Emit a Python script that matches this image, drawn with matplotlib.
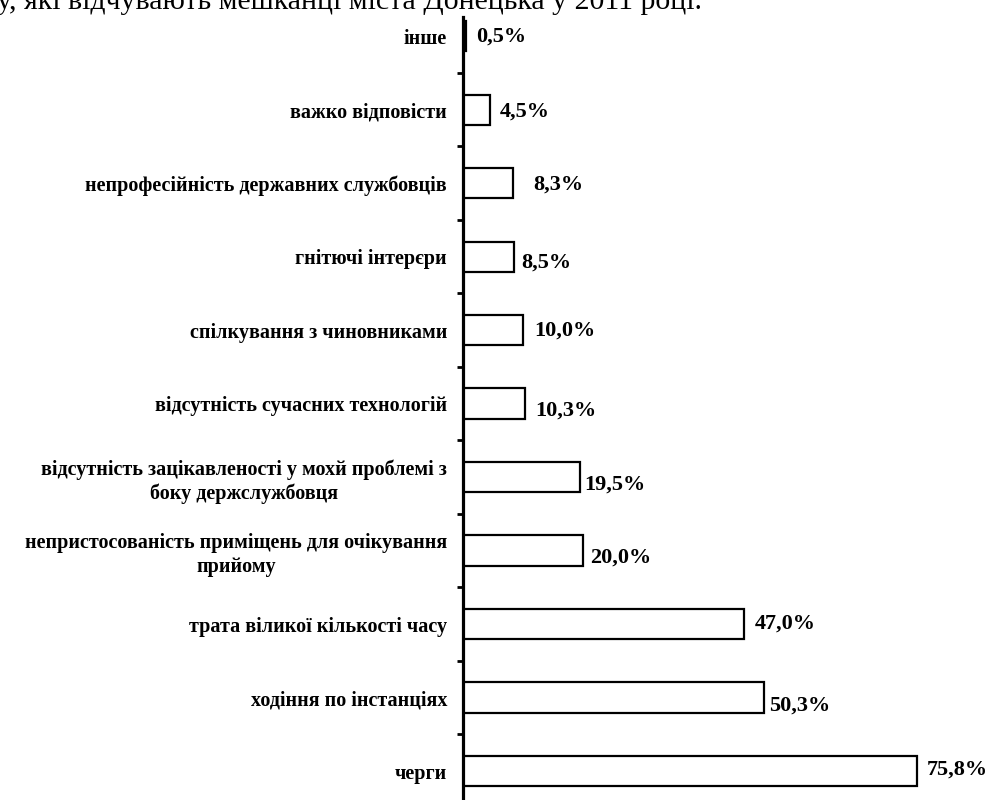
import matplotlib
matplotlib.use("Agg")
import matplotlib.pyplot as plt
import matplotlib.transforms as mtransforms
import numpy as np

plt.rcParams['font.family'] = ['Liberation Serif', 'DejaVu Serif']

# Проблеми, з якими стикаються відвідувачі установ
categories = [
    'інше',
    'важко відповісти',
    'непрофесійність державних службовців',
    'гнітючі інтерєри',
    'спілкування з чиновниками',
    'відсутність сучасних технологій',
    'відсутність зацікавленості у мохй проблемі з\nбоку держслужбовця',
    'непристосованість приміщень для очікування\nприйому',
    'трата віликої кількості часу',
    'ходіння по інстанціях',
    'черги',
]
values = [0.5, 4.5, 8.3, 8.5, 10.0, 10.3, 19.5, 20.0, 47.0, 50.3, 75.8]
value_labels = ['0,5%', '4,5%', '8,3%', '8,5%', '10,0%', '10,3%',
                '19,5%', '20,0%', '47,0%', '50,3%', '75,8%']

# зсув підписів значень (пікселі: вправо, вниз)
label_nudge = [(10, 0), (10, 2), (21, 2), (7, 6), (11, 1), (11, 7),
               (4, 8), (7, 7), (10, 0), (5, 8), (10, -1)]

title = 'у, які відчувають мешканці міста Донецька у 2011 році.'

W, H = 1002, 800
fig = plt.figure(figsize=(W / 100, H / 100), dpi=100)

# область графіка: вісь категорій на x=463, верх осі на y=17
ax_left = 463 / W
ax_top = 1 - 17 / H
ax_bottom = 1 - 807.75 / H
ax = fig.add_axes([ax_left, ax_bottom, 1 - ax_left, ax_top - ax_bottom])

y = np.arange(len(categories))
ax.barh(y, values, height=0.41, color='white', edgecolor='black',
        linewidth=1.6, zorder=2)

ax.set_xlim(0, 90)
ax.set_ylim(10.5, -0.26)

for sp in ['top', 'right', 'bottom']:
    ax.spines[sp].set_visible(False)
ax.spines['left'].set_linewidth(2.3)
ax.spines['left'].set_zorder(3)
ax.set_xticks([])

# підписи категорій
ax.set_yticks(y)
ax.set_yticklabels(categories, fontsize=14.5, fontweight='bold',
                   multialignment='center', linespacing=1.25)
ax.tick_params(axis='y', which='major', length=0, pad=11.5)

# штрихи між категоріями
ax.set_yticks(np.arange(len(categories) - 1) + 0.5, minor=True)
ax.tick_params(axis='y', which='minor', length=4, width=2, direction='out')

for i, (v, lab) in enumerate(zip(values, value_labels)):
    dx, dy = label_nudge[i]
    off = mtransforms.offset_copy(ax.transData, fig=fig, x=dx * 0.72,
                                  y=-dy * 0.72, units='points')
    ax.text(v, i, lab, transform=off, ha='left', va='center',
            fontsize=16, fontweight='bold')

fig.text(-3 / W, 1 - 9 / H, title, ha='left', va='baseline', fontsize=21.5)

fig.savefig('out.png', dpi=100)
